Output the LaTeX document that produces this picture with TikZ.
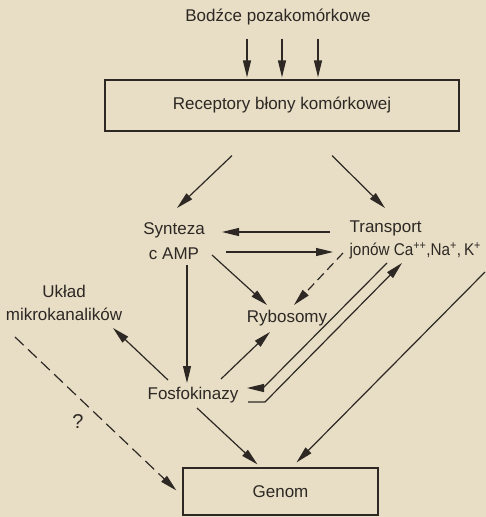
\documentclass[tikz,border=0pt]{standalone}
\usepackage{fontspec}
\setmainfont{Liberation Sans}
\usepackage{xcolor}
\usepackage{tikz}
\usetikzlibrary{arrows.meta}
\usetikzlibrary{calc}
\usetikzlibrary{positioning}
\definecolor{paper}{RGB}{232,222,198}
\definecolor{ink}{RGB}{45,40,36}

\begin{document}
\begin{tikzpicture}[x=1pt,y=-1pt,>={Triangle[length=17pt,width=8pt]},line width=1.2pt,draw=ink,text=ink,font=\fontsize{17}{23}\selectfont]
 				 \tikzstyle{box}=[draw, rectangle, inner sep=0pt]
 				 \tikzstyle{lab}=[align=center, inner sep=0pt]
 				 \tikzstyle{arr}=[->]
 				 \tikzstyle{dsh}=[->, dash pattern=on 12pt off 6pt]
 				 \fill[paper] (0,0) rectangle (486,517);
 				 \useasboundingbox (0,0) rectangle (486,517);
 					 \node[lab]			(bodz) at (278,17)		{Bodźce pozakomórkowe};
 					 \node[box, minimum width=354pt, minimum height=51pt] (rec) at (282,105.5) {Receptory błony komórkowej};
 					 \node[lab]			(syn) at (174,241)		{Synteza\\[2pt]c AMP};
 					 \node[lab, align=left, anchor=west] (tra) at (349,240) {Transport\\\addfontfeature{FakeStretch=0.9}jonów Ca\textsuperscript{++},Na\textsuperscript{+},\,K\textsuperscript{+}};
 					 \node[lab]			(ryb) at (287,318)		{Rybosomy};
 					 \node[lab]			(ukl) at (64,303)		{Układ\\mikrokanalików};
 					 \node[lab]			(fos) at (193,395)		{Fosfokinazy};
 					 \node[box, minimum width=195pt, minimum height=47pt] (gen) at (280.5,491.5) {Genom};
 					 \node[lab]			(q) at (78,422)		{\fontsize{20}{24}\selectfont ?};
 					 \foreach \dx in {-35,0,36}
 					   \draw[arr] ($(bodz.south -| rec.north)+(\dx,13)$) -- ($(rec.north)+(\dx,-2)$);
 					 \draw[arr] ($(rec.south)+(-50,24)$) -- ($(syn.center)+(3,-33)$);
 					 \draw[arr] ($(rec.south)+(50,24)$) -- ($(tra.west)+(36,-32)$);
 					 \draw[arr] ($(tra.west)+(-19,-8)$) -- ($(syn.center)+(48,-9)$);
 					 \draw[arr] ($(syn.center)+(52,11)$) -- ($(tra.west)+(-16,12)$);
 					 \draw[arr] ($(syn.center)+(38,14)$) -- ($(ryb.center)+(-20,-13)$);
 					 \draw[dsh, dash pattern=on 9pt off 5pt] ($(tra.west)+(-6,13)$) -- ($(ryb.center)+(7,-13)$);
 					 \draw[arr] ($(syn.center)+(13,24)$) -- ($(fos.center)+(-6,-12)$);
 					 \draw[arr] ($(fos.center)+(-25,-15)$) -- ($(ukl.center)+(49,25)$);
 					 \draw[arr] ($(fos.center)+(28,-16)$) -- ($(ryb.center)+(-17,14)$);
 					 \draw[arr] ($(tra.west)+(38,23)$) -- ($(fos.center)+(70,-7)$) -- ($(fos.center)+(54,-7)$);
 					 \draw[arr] ($(fos.center)+(55,7)$) -- ($(fos.center)+(72,7)$) -- ($(tra.west)+(53,23)$);
 					 \draw[arr] ($(tra.west)+(136,32)$) -- ($(gen.north)+(16,-5)$);
 					 \draw[arr] ($(fos.center)+(4,13)$) -- ($(gen.north)+(-23,-3)$);
 					 \draw[dsh] ($(ukl.center)+(-49,34)$) -- ($(gen.west)+(-6,-1)$);
				\end{tikzpicture}
\end{document}
